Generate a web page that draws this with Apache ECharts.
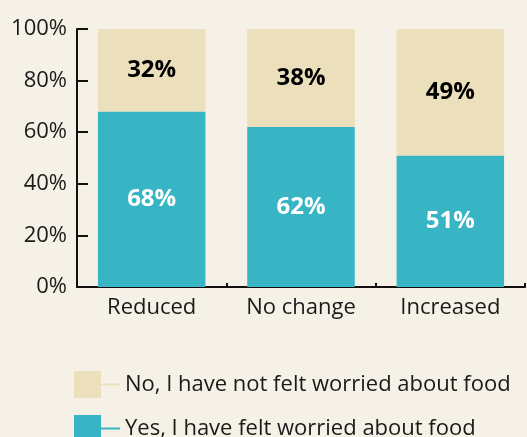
<!DOCTYPE html>
<html><head><meta charset="utf-8">
<script src="https://cdn.jsdelivr.net/npm/echarts@6/dist/echarts.min.js"></script>
<style>html,body{margin:0;padding:0;background:#F6F1E6;}#c{width:527px;height:437px;}</style>
</head><body><div id="c"></div>
<script>
const categories = ['Reduced', 'No change', 'Increased'];
const yesValues = [68, 62, 51];
const noValues = [32, 38, 49];
const seriesNames = ['Yes, I have felt worried about food', 'No, I have not felt worried about food'];
const yTicks = [0, 20, 40, 60, 80, 100];

const font = 'Open Sans';
const chart = echarts.init(document.getElementById('c'));
const iconPath = 'path://M0 0H27V27H0Z M27 12.5H46V14.5H27Z';
chart.setOption({
  backgroundColor: '#F6F1E6',
  animation: false,
  textStyle: { fontFamily: font },
  grid: { left: 77, right: 2, top: 29, bottom: 150, containLabel: false },
  legend: {
    orient: 'vertical', left: 69, top: 366, height: 120,
    itemWidth: 46, itemHeight: 27, itemGap: 17,
    data: [
      { name: seriesNames[1], icon: iconPath },
      { name: seriesNames[0], icon: iconPath }
    ],
    textStyle: { fontFamily: font, fontSize: 22, color: '#1a1a1a' }
  },
  xAxis: {
    type: 'category', data: categories,
    axisLine: { lineStyle: { color: '#111', width: 2 } },
    axisTick: { show: true, inside: true, length: 4, alignWithLabel: false, lineStyle: { color: '#111', width: 2 } },
    axisLabel: { fontFamily: font, fontSize: 22, color: '#1a1a1a', margin: 10 }
  },
  yAxis: {
    type: 'value', min: 0, max: 100, interval: 20,
    axisLine: { show: true, lineStyle: { color: '#111', width: 2 } },
    axisTick: { show: true, inside: true, length: 11, lineStyle: { color: '#111', width: 2 } },
    splitLine: { show: false },
    axisLabel: { fontFamily: font, fontSize: 22, color: '#1a1a1a', margin: 10, padding: [0, 0, 6, 0],
      formatter: v => yTicks.includes(v) ? v + '%' : '' }
  },
  series: [
    {
      name: seriesNames[0], type: 'bar', stack: 'a', data: yesValues, barWidth: '72%',
      itemStyle: { color: '#37B5C5' },
      label: { show: true, position: 'inside', formatter: '{c}%', color: '#fff', fontWeight: 'bold', fontSize: 24, fontFamily: font }
    },
    {
      name: seriesNames[1], type: 'bar', stack: 'a', data: noValues, barWidth: '72%',
      itemStyle: { color: '#EBDFBC' },
      label: { show: true, position: 'inside', formatter: '{c}%', color: '#000', fontWeight: 'bold', fontSize: 24, fontFamily: font }
    }
  ]
});
</script></body></html>
